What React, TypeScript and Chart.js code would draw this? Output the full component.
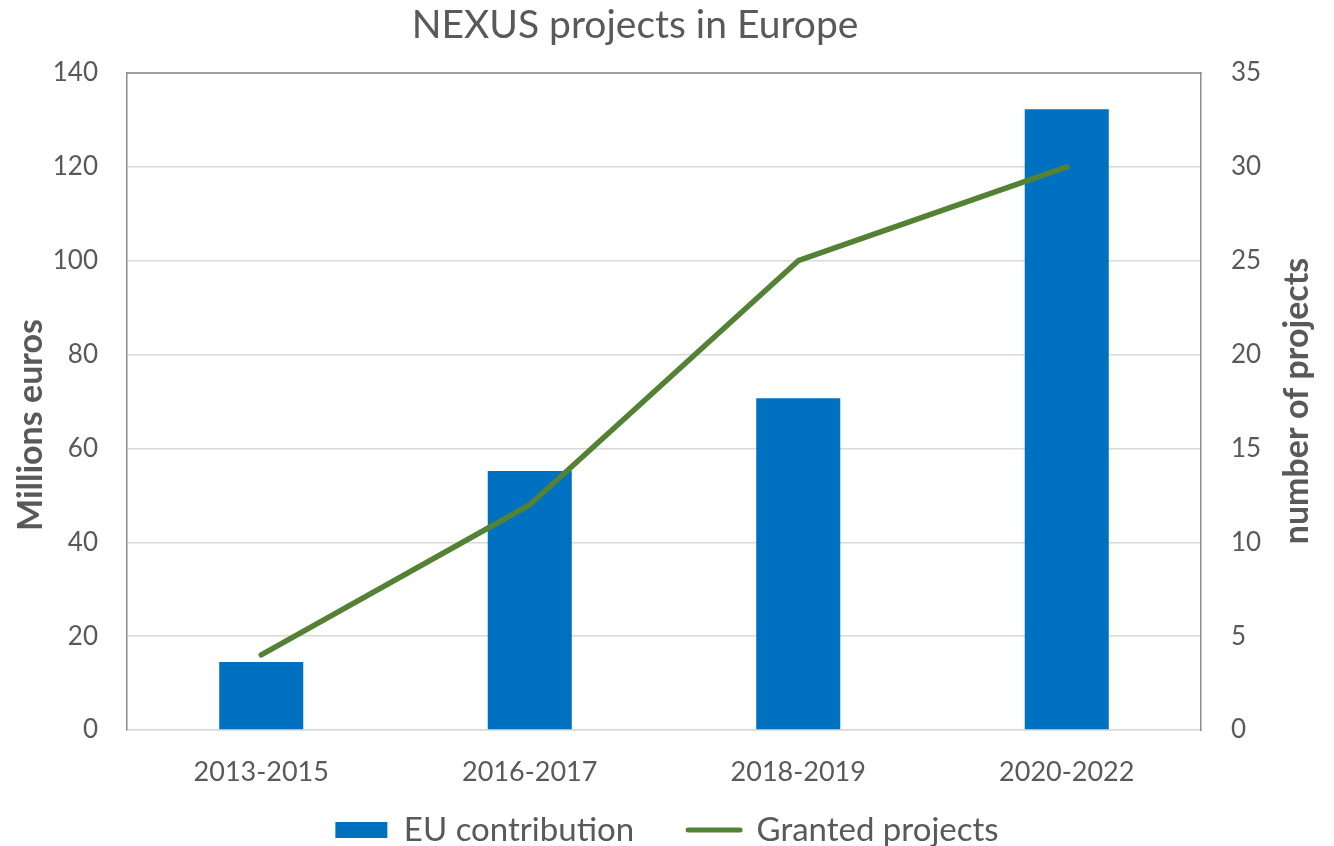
import React, { useEffect, useRef } from 'react';
import { Chart, registerables } from 'chart.js';

Chart.register(...registerables);

const chartTitle = 'NEXUS projects in Europe';
const categories = ['2013-2015', '2016-2017', '2018-2019', '2020-2022'];
const euContribution = [14.5, 55.2, 70.7, 132.3];
const grantedProjects = [4, 12, 25, 30];
const leftAxisTitle = 'Millions euros';
const rightAxisTitle = 'number of projects';
const seriesLabels = ['EU contribution', 'Granted projects'];
const leftAxisRange = [0, 140, 20];
const rightAxisRange = [0, 35, 5];

const FONT = 'Lato, "Open Sans", sans-serif';
const TEXT = '#595959';
const BAR = '#0070C0';
const LINE = '#548235';
const FRAME = '#8c8c8c';
const GRID = '#d9d9d9';

const decorPlugin = {
  id: 'decor',
  afterLayout(chart: any) {
    // let the category labels extend below the (short) x-axis box without being clipped
    const x = chart.scales.x;
    if (x) x.bottom = chart.height;
  },
  afterDraw(chart: any) {
    const { ctx, chartArea } = chart;
    const { left, right, top } = chartArea;
    ctx.save();
    ctx.strokeStyle = FRAME;
    ctx.lineWidth = 1.5;
    ctx.beginPath();
    ctx.moveTo(left - 0.75, top);
    ctx.lineTo(right + 0.75, top);
    ctx.stroke();

    ctx.fillStyle = TEXT;
    ctx.textAlign = 'center';
    ctx.textBaseline = 'alphabetic';
    ctx.font = `39px ${FONT}`;
    ctx.fillText(chartTitle, (left + right) / 2 - 29, 38);

    ctx.font = `bold 34px ${FONT}`;
    ctx.textBaseline = 'middle';
    ctx.save();
    ctx.translate(31, 425);
    ctx.rotate(-Math.PI / 2);
    ctx.fillText(leftAxisTitle, 0, 0);
    ctx.restore();
    ctx.save();
    ctx.translate(1297, 401);
    ctx.rotate(-Math.PI / 2);
    ctx.fillText(rightAxisTitle, 0, 0);
    ctx.restore();
    ctx.restore();
  },
};

export default function App() {
  const ref = useRef<HTMLCanvasElement | null>(null);
  useEffect(() => {
    if (!ref.current) return;
    const chart = new Chart(ref.current, {
      type: 'bar',
      data: {
        labels: categories,
        datasets: [
          {
            type: 'bar',
            label: seriesLabels[0],
            data: euContribution,
            backgroundColor: BAR,
            barPercentage: 0.313,
            categoryPercentage: 1,
            yAxisID: 'y',
            order: 2,
          } as any,
          {
            type: 'line',
            label: seriesLabels[1],
            data: grantedProjects,
            borderColor: LINE,
            backgroundColor: LINE,
            borderWidth: 5.5,
            borderCapStyle: 'round',
            borderJoinStyle: 'round',
            pointRadius: 0,
            pointHoverRadius: 0,
            tension: 0,
            fill: false,
            yAxisID: 'y1',
            order: 1,
          } as any,
        ],
      },
      options: {
        animation: false,
        responsive: false,
        layout: { padding: { top: 73, bottom: -10.5, left: 0, right: 0 } },
        plugins: {
          title: { display: false },
          tooltip: { enabled: false },
          legend: {
            position: 'bottom',
            labels: {
              usePointStyle: true,
              pointStyleWidth: 52,
              boxHeight: 16,
              padding: 54,
              color: TEXT,
              font: { family: FONT, size: 33 },
              sort: (a: any, b: any) => a.datasetIndex - b.datasetIndex,
              generateLabels: (chart: any) => {
                const items = (Chart.defaults.plugins.legend.labels as any).generateLabels(chart);
                return items.map((it: any) =>
                  it.datasetIndex === 1
                    ? { ...it, pointStyle: 'line', lineWidth: 5, strokeStyle: LINE, fillStyle: LINE, lineCap: 'round' }
                    : { ...it, pointStyle: 'rect', lineWidth: 0, fillStyle: BAR, strokeStyle: BAR }
                );
              },
            },
          },
        },
        scales: {
          x: {
            grid: { drawOnChartArea: false, drawTicks: false },
            border: { display: true, color: GRID, width: 1.5 },
            ticks: { color: TEXT, font: { family: FONT, size: 27 }, padding: 26 },
            afterFit: (s: any) => {
              s.height = 29.5;
            },
          },
          y: {
            position: 'left',
            min: leftAxisRange[0],
            max: leftAxisRange[1],
            ticks: { stepSize: leftAxisRange[2], color: TEXT, font: { family: FONT, size: 26 }, padding: 29 },
            grid: { color: GRID, lineWidth: 1.5, drawTicks: false },
            border: { display: true, color: FRAME, width: 1.5 },
            afterFit: (s: any) => {
              s.width = 127;
            },
          },
          y1: {
            position: 'right',
            min: rightAxisRange[0],
            max: rightAxisRange[1],
            ticks: { stepSize: rightAxisRange[2], color: TEXT, font: { family: FONT, size: 26 }, padding: 30 },
            grid: { drawOnChartArea: false, drawTicks: false },
            border: { display: true, color: FRAME, width: 1.5 },
            afterFit: (s: any) => {
              s.width = 133;
            },
          },
        },
      },
      plugins: [decorPlugin],
    });
    return () => chart.destroy();
  }, []);
  return (
    <div style={{ position: 'fixed', left: 0, top: 0, width: 1334, height: 846, background: '#fff' }}>
      <canvas ref={ref} width={1334} height={846} style={{ display: 'block' }} />
    </div>
  );
}
